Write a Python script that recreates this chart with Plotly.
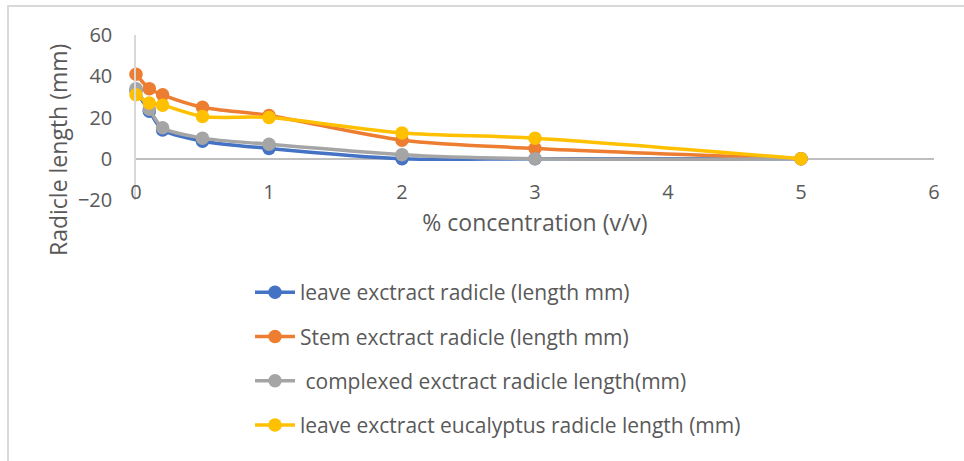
import plotly.graph_objects as go

x_conc = [0, 0.1, 0.2, 0.5, 1, 2, 3, 5]
leave = [33, 23, 14, 8.5, 5, 0, 0, 0]
stem = [41, 34, 31, 25, 21, 9, 5, 0]
complexed = [34, 24, 15, 10, 7, 2, 0, 0]
eucalyptus = [31, 27, 26, 20.5, 20, 12.5, 10, 0]

names = [
    "leave exctract radicle (length mm)",
    "Stem exctract radicle (length mm)",
    " complexed exctract radicle length(mm)",
    "leave exctract eucalyptus radicle length (mm)",
]
colors = ["#4472C4", "#ED7D31", "#A5A5A5", "#FFC000"]
series = [leave, stem, complexed, eucalyptus]
x_title = "% concentration (v/v)"
y_title = "Radicle length (mm)"

W, H = 964, 461
L, R, T, B = 136, 30, 35, 261
pw, ph = W - L - R, H - T - B

fig = go.Figure()
for i, (nm, col, ys) in enumerate(zip(names, colors, series)):
    fig.add_trace(go.Scatter(
        x=x_conc, y=ys, name=nm, mode="lines+markers",
        line=dict(color=col, width=3.5, shape="spline", smoothing=0.8),
        marker=dict(color=col, size=13.5),
        cliponaxis=False, legendgroup=f"g{i}",
    ))

font_col = "#595959"
FONT = "Open Sans"
fig.update_layout(
    width=W, height=H,
    margin=dict(l=L, r=R, t=T, b=B, autoexpand=False),
    paper_bgcolor="white", plot_bgcolor="white",
    font=dict(family=FONT, color=font_col, size=20),
    showlegend=True,
    legend=dict(
        x=(250 - L) / pw, y=(200 - 272) / ph, xanchor="left", yanchor="top",
        font=dict(family=FONT, size=21, color=font_col), tracegroupgap=14,
        traceorder="grouped", bgcolor="rgba(0,0,0,0)", itemwidth=40,
    ),
    xaxis=dict(
        range=[0, 6], dtick=1, tick0=0, showgrid=False, zeroline=False,
        showline=False, ticks="", tickfont=dict(family=FONT, size=20, color=font_col),
        ticklabelstandoff=-22,
        title=dict(text=x_title, font=dict(family=FONT, size=23, color=font_col), standoff=10),
    ),
    yaxis=dict(
        range=[-20, 60], dtick=20, tick0=-20, showgrid=False,
        zeroline=True, zerolinecolor="#BFBFBF", zerolinewidth=1.5,
        showline=True, linecolor="#D9D9D9", linewidth=1.5, ticks="",
        tickfont=dict(family=FONT, size=20, color=font_col), ticklabelstandoff=18,
    ),
    annotations=[dict(
        text=y_title, textangle=-90, xref="paper", yref="paper",
        x=(58 - L) / pw, y=(T + ph - 150) / ph, xanchor="center", yanchor="middle",
        showarrow=False, font=dict(family=FONT, size=23, color=font_col),
    )],
    shapes=[dict(
        type="rect", xref="paper", yref="paper",
        x0=(8 - L) / pw, x1=(990 - L) / pw,
        y0=(T + ph - 500) / ph, y1=1 + (T - 6) / ph,
        line=dict(color="#D9D9D9", width=2), fillcolor="rgba(0,0,0,0)", layer="below",
    )],
)

fig.write_html("out.html")
